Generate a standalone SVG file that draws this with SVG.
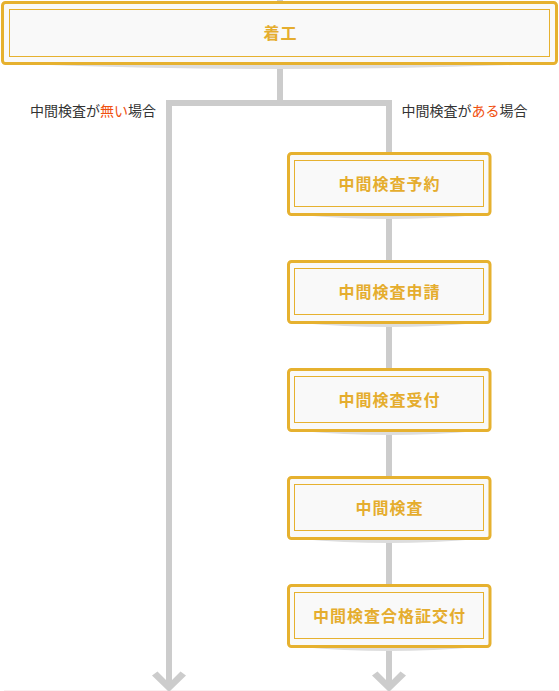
<svg xmlns="http://www.w3.org/2000/svg" width="559" height="691" viewBox="0 0 559 691">
<style>
.ln{fill:none;stroke:#cccccc;stroke-width:6;stroke-linejoin:miter}
.ah{fill:#cccccc}
.ob{fill:#f9f9f9;stroke:#e6b12f;stroke-width:3}
.ib{fill:none;stroke:#e6b12f;stroke-width:1}
.sh{fill:#dddddd}
.bt{font-family:"Noto Sans CJK JP","Noto Sans",sans-serif;font-size:16px;font-weight:bold;fill:#e5ad2e;letter-spacing:1px;text-anchor:middle}
.lb{font-family:"Noto Sans CJK JP","Noto Sans",sans-serif;font-size:14px;fill:#333333}
.hl{fill:#f0500f}
</style>
<rect width="559" height="691" fill="#ffffff"/>
<line x1="4" y1="690.5" x2="555" y2="690.5" stroke="#fbeef0" stroke-width="1"/>
<g id="connectors">
<path class="ln" d="M280,0 V4"/>
<path class="ln" d="M280,64 V103"/>
<path class="ln" d="M169,684 V103 H389 V684"/>
<polygon class="ah" points="152,675.5 157.5,671.5 169,683 180.5,671.5 186,675.5 169,692"/>
<polygon class="ah" points="372,675.5 377.5,671.5 389,683 400.5,671.5 406,675.5 389,692"/>
</g>
<g id="label-none">
<text class="lb" x="30" y="116">中間検査が<tspan class="hl">無い</tspan>場合</text>
</g>
<g id="label-yes">
<text class="lb" x="401.5" y="116">中間検査が<tspan class="hl">ある</tspan>場合</text>
</g>
<g id="node-start">
<path class="sh" d="M20,64 Q280,74 540,64 Z"/>
<rect class="ob" x="2.5" y="2.5" width="554" height="61" rx="3"/>
<rect class="ib" x="9.5" y="9.5" width="540" height="47"/>
<text class="bt" x="280.5" y="38.5">着工</text>
</g>
<g id="node-1">
<path class="sh" d="M300,215 Q389,223 478,215 Z"/>
<rect class="ob" x="288.5" y="153.5" width="201.5" height="61" rx="3"/>
<rect class="ib" x="294.5" y="160.5" width="189" height="46"/>
<text class="bt" x="389.5" y="189.5">中間検査予約</text>
</g>
<g id="node-2">
<path class="sh" d="M300,323 Q389,331 478,323 Z"/>
<rect class="ob" x="288.5" y="261.5" width="201.5" height="61" rx="3"/>
<rect class="ib" x="294.5" y="268.5" width="189" height="46"/>
<text class="bt" x="389.5" y="297.5">中間検査申請</text>
</g>
<g id="node-3">
<path class="sh" d="M300,431 Q389,439 478,431 Z"/>
<rect class="ob" x="288.5" y="369.5" width="201.5" height="61" rx="3"/>
<rect class="ib" x="294.5" y="376.5" width="189" height="46"/>
<text class="bt" x="389.5" y="405.5">中間検査受付</text>
</g>
<g id="node-4">
<path class="sh" d="M300,539 Q389,547 478,539 Z"/>
<rect class="ob" x="288.5" y="477.5" width="201.5" height="61" rx="3"/>
<rect class="ib" x="294.5" y="484.5" width="189" height="46"/>
<text class="bt" x="389.5" y="513.5">中間検査</text>
</g>
<g id="node-5">
<path class="sh" d="M300,647 Q389,655 478,647 Z"/>
<rect class="ob" x="288.5" y="585.5" width="201.5" height="61" rx="3"/>
<rect class="ib" x="294.5" y="592.5" width="189" height="46"/>
<text class="bt" x="389.5" y="621.5">中間検査合格証交付</text>
</g>
</svg>
